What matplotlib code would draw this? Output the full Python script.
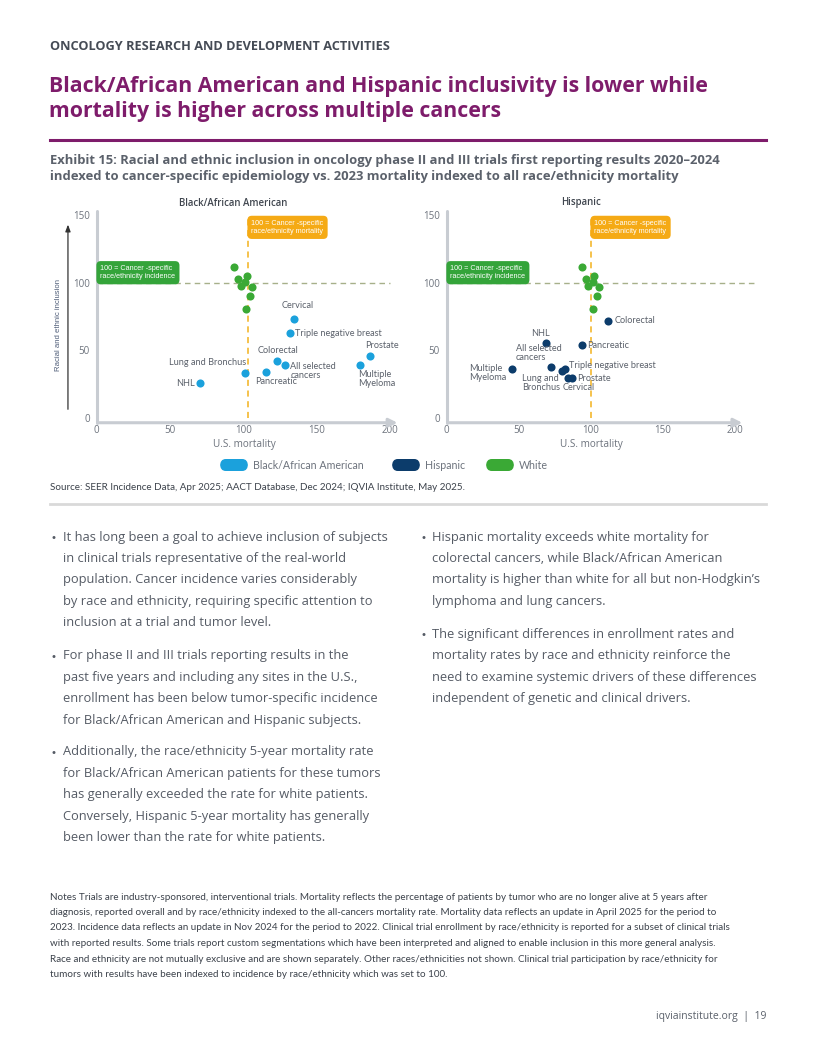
import matplotlib
matplotlib.use('Agg')
import matplotlib.pyplot as plt
from matplotlib.patches import FancyBboxPatch

# ---- data ----
cancers = ['Cervical', 'Triple negative breast', 'Prostate', 'Multiple\nMyeloma', 'Colorectal',
           'All selected\ncancers', 'Pancreatic', 'Lung and Bronchus', 'NHL']
black_mortality = [134.5, 132, 186.6, 179.8, 123, 128.6, 115.2, 101.1, 70.7]
black_inclusion = [73, 62.7, 45.5, 39.3, 41.8, 39.3, 33.9, 33.4, 25.6]

hisp_cancers = ['Colorectal', 'NHL', 'Pancreatic', 'All selected\ncancers', 'Multiple\nMyeloma',
                'Triple negative breast', 'Lung and\nBronchus', 'Prostate', 'Cervical']
hisp_mortality = [112.1, 69.1, 93.6, 72.1, 45.5, 81.8, 79.8, 87.2, 84.4]
hisp_inclusion = [72, 55.6, 53.8, 37.6, 36.1, 35.9, 34.7, 29.5, 29.8]

white_mortality = [93.8, 96.6, 102.5, 101.2, 98.1, 105.7, 104.5, 101.5]
white_inclusion = [111.6, 102.8, 105, 100.3, 97.9, 97.1, 90, 80.4]

series = ['Black/African American', 'Hispanic', 'White']
colors = ['#1ba1dc', '#0c3c6b', '#3aa935']

x_ticks = [0, 50, 100, 150, 200]
y_ticks = [0, 50, 100, 150]

# label offsets in pixels (dx, dy, ha, va)
black_lab = [(4, 9, 'center', 'bottom'), (5, 0, 'left', 'center'), (-5, 6, 'left', 'bottom'),
             (-2, -5, 'left', 'top'), (1, 6, 'center', 'bottom'), (5, 3, 'left', 'top'),
             (10, -5, 'center', 'top'), (1, 6, 'right', 'bottom'), (-6, 0, 'right', 'center')]
hisp_lab = [(6, 0, 'left', 'center'), (-6, 5, 'center', 'bottom'), (6, 0, 'left', 'center'),
            (-35, 5, 'left', 'bottom'), (-43, 5, 'left', 'top'), (4, 4, 'left', 'center'),
            (-40, -3, 'left', 'top'), (5, 0, 'left', 'center'), (10, -5, 'center', 'top')]

W, H = 816, 1056
fig = plt.figure(figsize=(W / 100, H / 100), dpi=100)

GRAY = '#5b616b'
PURPLE = '#7e1c6b'
AXC = '#c8ccd2'


def fx(x):
    return x / W


def fy(y):
    return 1 - y / H


def draw_panel(left, right, title, xs, ys, names, offs, col, vline, hline_end, outer_arrow):
    ax = fig.add_axes([fx(left), fy(418), (right - left) / W, (418 - 215) / H])
    ax.set_xlim(0, 200)
    ax.set_ylim(0, 150)
    for s in ax.spines.values():
        s.set_visible(False)
    ax.set_xticks(x_ticks)
    ax.set_yticks(y_ticks)
    ax.tick_params(length=0, labelsize=7, labelcolor='#6d737d', pad=5, labelfontfamily='Open Sans')
    # axis lines
    ax.plot([0, 0], [153, -3.5], color=AXC, lw=2.2, clip_on=False, solid_capstyle='round')
    ax.annotate('', xy=(207, -3.5), xytext=(0, -3.5), annotation_clip=False,
                arrowprops=dict(arrowstyle='-|>,head_width=0.25,head_length=0.5', color=AXC, lw=2.2))
    if outer_arrow:
        ax.annotate('', xy=(-19.6, 145), xytext=(-19.6, 4.4), annotation_clip=False,
                    arrowprops=dict(arrowstyle='-|>,head_width=0.15,head_length=0.4', color='#333333', lw=0.9))
        ax.text(-26.3, 69, 'Racial and ethnic inclusion', rotation=90, ha='center', va='center',
                fontsize=5.6, color='#4f5d78', family='Liberation Sans')
    # reference lines
    ax.plot([0, hline_end], [100, 100], ls=(0, (4, 3)), color='#a7b08a', lw=1, clip_on=False, zorder=1)
    ax.plot([vline, vline], [0, 147], ls=(0, (4, 3)), color='#f2b21d', lw=1.1, clip_on=False, zorder=1)
    # boxes
    ax.text(2.5, 113, '100 = Cancer -specific\nrace/ethnicity incidence', ha='left', va='top', fontsize=5.2,
            color='white', family='Liberation Sans', linespacing=1.25, zorder=5,
            bbox=dict(boxstyle='round,pad=0.55,rounding_size=0.6', fc='#34a43a', ec='none'))
    ax.text(vline + 2.5, 146.5, '100 = Cancer -specific\nrace/ethnicity mortality', ha='left', va='top',
            fontsize=5.2, color='white', family='Liberation Sans', linespacing=1.25, zorder=5,
            bbox=dict(boxstyle='round,pad=0.55,rounding_size=0.6', fc='#f5aa15', ec='none'))
    # points
    ax.scatter(white_mortality, white_inclusion, s=34, color=colors[2], zorder=3, linewidths=0, clip_on=False)
    ax.scatter(xs, ys, s=34, color=col, zorder=3, linewidths=0, clip_on=False)
    for x, y, n, (dx, dy, ha, va) in zip(xs, ys, names, offs):
        ax.annotate(n, (x, y), xytext=(dx, dy), textcoords='offset pixels', ha=ha, va=va,
                    fontsize=6.6, color=GRAY, family='Lato', linespacing=1.0)
    fig.text(fx((left + right) / 2 - 10), fy(203), title, ha='center', va='center', fontsize=6.9,
             fontweight='semibold', color='#40464f', family='Open Sans')
    fig.text(fx((left + right) / 2 + 1), fy(445), 'U.S. mortality', ha='center', va='center',
             fontsize=7.2, color='#6d737d', family='Open Sans')
    return ax


draw_panel(96.7, 390, 'Black/African American', black_mortality, black_inclusion, cancers,
           black_lab, colors[0], 103, 200, True)
draw_panel(446.7, 735, 'Hispanic', hisp_mortality, hisp_inclusion, hisp_cancers,
           hisp_lab, colors[1], 100, 215, False)

# ---- page text ----
fig.text(fx(50), fy(46), 'ONCOLOGY RESEARCH AND DEVELOPMENT ACTIVITIES', ha='left', va='center',
         fontsize=9.2, fontweight='bold', color='#454b55', family='Open Sans')
fig.text(fx(49), fy(99), 'Black/African American and Hispanic inclusivity is lower while\n'
         'mortality is higher across multiple cancers', ha='left', va='center', fontsize=15.3,
         fontweight='bold', color=PURPLE, family='Open Sans', linespacing=1.3)
fig.add_artist(plt.Line2D([fx(50), fx(766)], [fy(139.5), fy(139.5)], color=PURPLE, lw=2.2))
fig.text(fx(50), fy(168.5), 'Exhibit 15: Racial and ethnic inclusion in oncology phase II and III trials first '
         'reporting results 2020\u20132024\nindexed to cancer-specific epidemiology vs. 2023 mortality indexed '
         'to all race/ethnicity mortality', ha='left', va='center', fontsize=9.4, fontweight='bold',
         color='#5b616b', family='Open Sans', linespacing=1.3)

# legend
leg_x = [220, 392, 486]
for lx, name, c in zip(leg_x, series, colors):
    fig.add_artist(FancyBboxPatch((fx(lx), fy(471)), 28 / W, 12 / H,
                                  boxstyle='round,pad=0,rounding_size=0.007', fc=c, ec='none',
                                  transform=fig.transFigure))
    fig.text(fx(lx + 33), fy(465), name, ha='left', va='center', fontsize=7.7, color='#6d737d', family='Lato')

fig.text(fx(50), fy(487), 'Source: SEER Incidence Data, Apr 2025; AACT Database, Dec 2024; IQVIA Institute, May 2025.',
         ha='left', va='center', fontsize=7.1, color='#3c424b', family='Lato')
fig.add_artist(plt.Line2D([fx(50), fx(766)], [fy(504), fy(504)], color='#d9d9d9', lw=2))

left_col = [
    ['It has long been a goal to achieve inclusion of subjects',
     'in clinical trials representative of the real-world',
     'population. Cancer incidence varies considerably',
     'by race and ethnicity, requiring specific attention to',
     'inclusion at a trial and tumor level.'],
    ['For phase II and III trials reporting results in the',
     'past five years and including any sites in the U.S.,',
     'enrollment has been below tumor-specific incidence',
     'for Black/African American and Hispanic subjects.'],
    ['Additionally, the race/ethnicity 5-year mortality rate',
     'for Black/African American patients for these tumors',
     'has generally exceeded the rate for white patients.',
     'Conversely, Hispanic 5-year mortality has generally',
     'been lower than the rate for white patients.'],
]
right_col = [
    ['Hispanic mortality exceeds white mortality for',
     'colorectal cancers, while Black/African American',
     'mortality is higher than white for all but non-Hodgkin\u2019s',
     'lymphoma and lung cancers.'],
    ['The significant differences in enrollment rates and',
     'mortality rates by race and ethnicity reinforce the',
     'need to examine systemic drivers of these differences',
     'independent of genetic and clinical drivers.'],
]
left_starts = [537, 656, 752]
right_starts = [537, 634.5]
LS = 21.4
BODY = '#555b65'


def bullets(paras, starts, bx, tx):
    for para, y0 in zip(paras, starts):
        fig.text(fx(bx), fy(y0 + 1), '\u2022', ha='center', va='center', fontsize=7.5, color=BODY,
                 family='DejaVu Sans')
        for i, line in enumerate(para):
            fig.text(fx(tx), fy(y0 + i * LS), line, ha='left', va='center', fontsize=9.3, color=BODY,
                     family='Open Sans')


bullets(left_col, left_starts, 53, 63)
bullets(right_col, right_starts, 423, 432.5)

notes = [
    'Notes Trials are industry-sponsored, interventional trials. Mortality reflects the percentage of patients by tumor who are no longer alive at 5 years after',
    'diagnosis, reported overall and by race/ethnicity indexed to the all-cancers mortality rate. Mortality data reflects an update in April 2025 for the period to',
    '2023. Incidence data reflects an update in Nov 2024 for the period to 2022. Clinical trial enrollment by race/ethnicity is reported for a subset of clinical trials',
    'with reported results. Some trials report custom segmentations which have been interpreted and aligned to enable inclusion in this more general analysis.',
    'Race and ethnicity are not mutually exclusive and are shown separately. Other races/ethnicities not shown. Clinical trial participation by race/ethnicity for',
    'tumors with results have been indexed to incidence by race/ethnicity which was set to 100.',
]
for i, line in enumerate(notes):
    fig.text(fx(50), fy(897 + i * 15.5), line, ha='left', va='center', fontsize=7.15, color='#3c424b', family='Lato')

fig.text(fx(766), fy(1016), 'iqviainstitute.org  |  19', ha='right', va='center', fontsize=7.5,
         color='#5b616b', family='Open Sans')

fig.savefig('out.png', dpi=100)
